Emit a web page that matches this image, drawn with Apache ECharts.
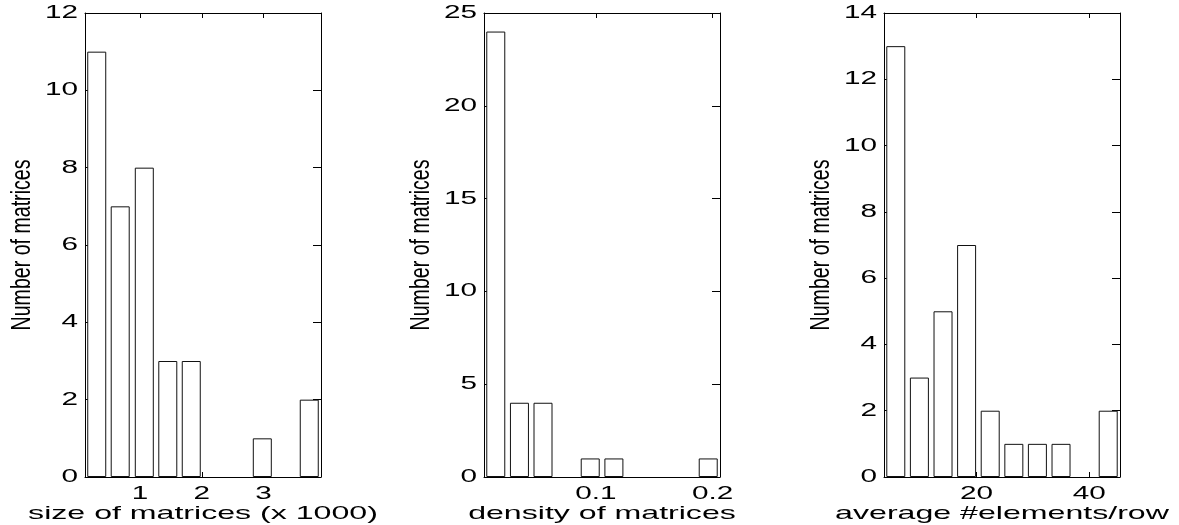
<!DOCTYPE html>
<html>
<head>
<meta charset="utf-8">
<script src="https://cdn.jsdelivr.net/npm/echarts@6/dist/echarts.min.js"></script>
<style>
html,body{margin:0;padding:0;background:#fff;}
#main{width:1179px;height:525px;}
</style>
</head>
<body>
<div id="main"></div>
<script>
// ---- data ----
const sizeRange = [0.11, 3.93];
const sizeBins = [0.30, 0.68, 1.07, 1.45, 1.83, 2.21, 2.59, 2.98, 3.36, 3.74];
const sizeCounts = [11, 7, 8, 3, 3, 0, 0, 1, 0, 2];
const sizeXTicks = [1, 2, 3];
const sizeXTickLabels = ['1', '2', '3'];
const sizeYTicks = [0, 2, 4, 6, 8, 10, 12];
const sizeXName = 'size of matrices (x 1000)';

const densityRange = [0.004, 0.2064];
const densityBins = [0.0141, 0.0344, 0.0546, 0.0749, 0.0951, 0.1154, 0.1356, 0.1558, 0.1761, 0.1963];
const densityCounts = [24, 4, 4, 0, 1, 1, 0, 0, 0, 1];
const densityXTicks = [0.1, 0.2];
const densityXTickLabels = ['0.1', '0.2'];
const densityYTicks = [0, 5, 10, 15, 20, 25];
const densityXName = 'density of matrices';

const avgRange = [3.59, 45.45];
const avgBins = [5.68, 9.87, 14.06, 18.24, 22.43, 26.62, 30.80, 34.99, 39.18, 43.36];
const avgCounts = [13, 3, 5, 7, 2, 1, 1, 1, 0, 2];
const avgXTicks = [20, 40];
const avgXTickLabels = ['20', '40'];
const avgYTicks = [0, 2, 4, 6, 8, 10, 12, 14];
const avgXName = 'average #elements/row';

const yName = 'Number of matrices';

// ---- layout / style ----
const panels = [
  {range: sizeRange, bins: sizeBins, counts: sizeCounts, xt: sizeXTicks, xl: sizeXTickLabels, yt: sizeYTicks, xname: sizeXName},
  {range: densityRange, bins: densityBins, counts: densityCounts, xt: densityXTicks, xl: densityXTickLabels, yt: densityYTicks, xname: densityXName},
  {range: avgRange, bins: avgBins, counts: avgCounts, xt: avgXTicks, xl: avgXTickLabels, yt: avgYTicks, xname: avgXName}
];
const gridLefts = [85, 484, 884];
const gridTop = 13, gridW = 236, gridH = 464;
const lineStyle = {color: '#000', width: 1};
const FONT_FAMILY = '"Liberation Sans", Arial, Helvetica, sans-serif';

const chart = echarts.init(document.getElementById('main'), null, {renderer: 'canvas'});

const grid = [], xAxis = [], yAxis = [], series = [];
panels.forEach((p, i) => {
  grid.push({left: gridLefts[i], top: gridTop, width: gridW, height: gridH, containLabel: false});
  const yMax = p.yt[p.yt.length - 1];
  const yStep = p.yt[1] - p.yt[0];
  ['bottom', 'top'].forEach(pos => {
    xAxis.push({
      type: 'value', gridIndex: i, position: pos, min: p.range[0], max: p.range[1],
      axisLine: {show: true, onZero: false, lineStyle},
      axisTick: {show: true, inside: true, length: 5, customValues: p.xt, lineStyle},
      axisLabel: {show: false, customValues: p.xt},
      splitLine: {show: false}
    });
  });
  ['left', 'right'].forEach(pos => {
    yAxis.push({
      type: 'value', gridIndex: i, position: pos, min: 0, max: yMax, interval: yStep,
      axisLine: {show: true, onZero: false, lineStyle},
      axisTick: {show: true, inside: true, length: 8, lineStyle},
      axisLabel: {show: false},
      splitLine: {show: false}
    });
  });
});
// bottom x axes are 0,2,4 ; left y axes 0,2,4
panels.forEach((p, i) => {
  series.push({
    type: 'bar', xAxisIndex: 2 * i, yAxisIndex: 2 * i,
    data: p.bins.map((b, k) => {
      const item = {value: [b, p.counts[k]]};
      if (p.counts[k] === 0) item.itemStyle = {borderWidth: 0};
      return item;
    }),
    barWidth: 19,
    itemStyle: {color: '#fff', borderColor: '#111', borderWidth: 1},
    silent: true, animation: false
  });
});

chart.setOption({animation: false, grid, xAxis, yAxis, series});

// ---- text (tick labels and axis titles), positioned through the axes' scales ----
const graphic = [];
function txt(text, x, y, size, align, valign, scaleX, rotation) {
  graphic.push({
    type: 'text', x, y, scaleX: scaleX || 1, scaleY: 1, rotation: rotation || 0, silent: true,
    style: {text, fill: '#000', font: size + 'px ' + FONT_FAMILY,
            align, verticalAlign: valign, textAlign: align, textVerticalAlign: valign}
  });
}
panels.forEach((p, i) => {
  p.xt.forEach((v, k) => {
    const px = chart.convertToPixel({xAxisIndex: 2 * i}, v);
    txt(p.xl[k], px, 494, 18, 'center', 'middle', 1.65);
  });
  p.yt.forEach(v => {
    const py = chart.convertToPixel({yAxisIndex: 2 * i}, v);
    txt(String(v), gridLefts[i] - 7, py, 18, 'right', 'middle', 1.65);
  });
  txt(p.xname, gridLefts[i] + gridW / 2, 514, 19, 'center', 'middle', 1.69);
  txt(yName, gridLefts[i] - 63, gridTop + gridH / 2, 28, 'center', 'middle', 0.70, Math.PI / 2);
});
chart.setOption({graphic});
</script>
</body>
</html>
